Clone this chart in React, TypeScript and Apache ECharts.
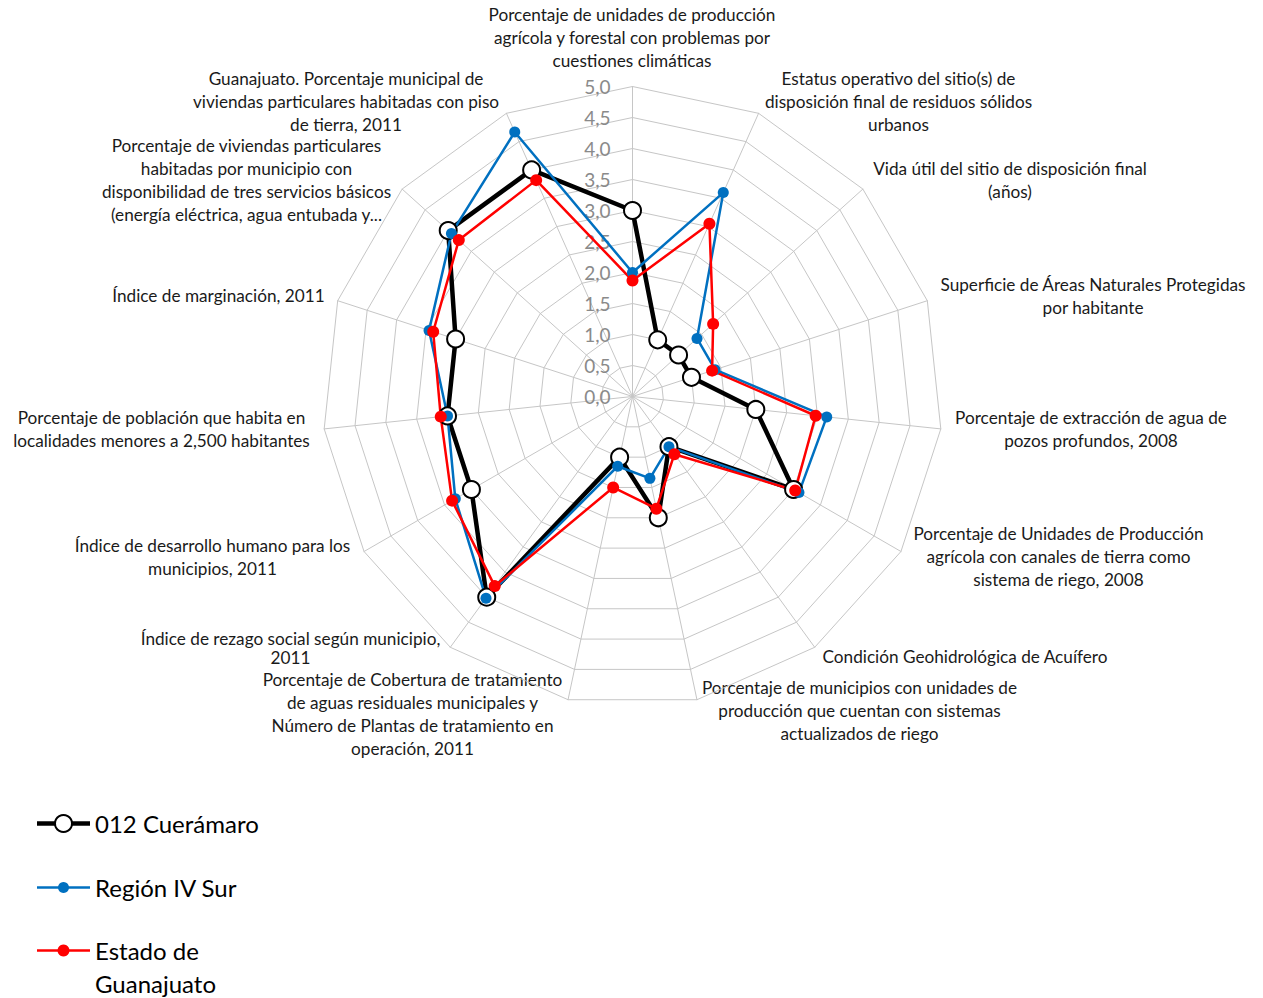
import React, { useEffect, useRef } from 'react';
import * as echarts from 'echarts';

// ---------- Data ----------
const indicatorNames: string[] = [
  'Porcentaje de unidades de producción\nagrícola y forestal con problemas por\ncuestiones climáticas',
  'Estatus operativo del sitio(s) de\ndisposición final de residuos sólidos\nurbanos',
  'Vida útil del sitio de disposición final\n(años)',
  'Superficie de Áreas Naturales Protegidas\npor habitante',
  'Porcentaje de extracción de agua de\npozos profundos, 2008',
  'Porcentaje de Unidades de Producción\nagrícola con canales de tierra como\nsistema de riego, 2008',
  'Condición Geohidrológica de Acuífero',
  'Porcentaje de municipios con unidades de\nproducción que cuentan con sistemas\nactualizados de riego',
  'Porcentaje de Cobertura de tratamiento\nde aguas residuales municipales y\nNúmero de Plantas de tratamiento en\noperación, 2011',
  'Índice de rezago social según municipio,\n2011',
  'Índice de desarrollo humano para los\nmunicipios, 2011',
  'Porcentaje de población que habita en\nlocalidades menores a 2,500 habitantes',
  'Índice de marginación, 2011',
  'Porcentaje de viviendas particulares\nhabitadas por municipio con\ndisponibilidad de tres servicios básicos\n(energía eléctrica, agua entubada y...',
  'Guanajuato. Porcentaje municipal de\nviviendas particulares habitadas con piso\nde tierra, 2011',
];

const seriesNames: string[] = ['012 Cuerámaro', 'Región IV Sur', 'Estado de Guanajuato'];

const cueramaro: number[] = [3.0, 1.0, 1.0, 1.0, 2.0, 3.0, 1.0, 2.0, 1.0, 4.0, 3.0, 3.0, 3.0, 4.0, 4.0];
const regionIVSur: number[] = [2.0, 3.6, 1.4, 1.4, 3.15, 3.1, 1.0, 1.35, 1.15, 4.02, 3.3, 3.0, 3.45, 3.93, 4.67];
const estadoGto: number[] = [1.87, 3.05, 1.75, 1.35, 2.97, 3.03, 1.15, 1.85, 1.5, 3.78, 3.36, 3.11, 3.38, 3.77, 3.82];

const tickLabels: string[] = ['0,0', '0,5', '1,0', '1,5', '2,0', '2,5', '3,0', '3,5', '4,0', '4,5', '5,0'];
const axisMax = 5;
const axisStep = 0.5;

// ---------- Layout (not data) ----------
const CX = 632.5;
const CY = 396.5;
const R = 310;
const FONT = 'Lato, "Open Sans", sans-serif';
const LINE_H = 22.7;
// first-line centre of each indicator label [x, y]
const labelPos: [number, number][] = [
  [632, 15],
  [898.5, 79],
  [1010, 169],
  [1093, 285],
  [1091, 418],
  [1058.5, 534],
  [965, 657],
  [859.5, 688],
  [412.5, 680],
  [290.5, 638],
  [212.5, 546],
  [161.5, 418],
  [218.5, 296],
  [246.5, 146],
  [346, 79],
];
const labelLineH: number[] = indicatorNames.map((_, i) => (i === 9 ? 19 : LINE_H));

// ECharts radar runs counter-clockwise; reorder to run clockwise like the original
const order: number[] = [0, ...Array.from({ length: indicatorNames.length - 1 }, (_, k) => indicatorNames.length - 1 - k)];

const seriesStyles = [
  { color: '#000000', width: 4.5, symbolSize: 17, fill: '#ffffff', border: 2 },
  { color: '#0070C0', width: 2.5, symbolSize: 11, fill: '#0070C0', border: 0 },
  { color: '#FF0000', width: 2.5, symbolSize: 12, fill: '#FF0000', border: 0 },
];
const seriesValues = [cueramaro, regionIVSur, estadoGto];

export default function App() {
  const ref = useRef<HTMLDivElement>(null);

  useEffect(() => {
    if (!ref.current) return;
    const chart = echarts.init(ref.current, undefined, { renderer: 'svg' });

    const labelGraphics = indicatorNames.map((name, i) => ({
      type: 'text',
      x: labelPos[i][0],
      y: labelPos[i][1] - labelLineH[i] / 2,
      silent: true,
      style: {
        text: name,
        font: `17.2px ${FONT}`,
        fill: '#1a1a1a',
        textAlign: 'center',
        align: 'center',
        textVerticalAlign: 'top',
        verticalAlign: 'top',
        lineHeight: labelLineH[i],
      },
    }));

    const legendY = [823.5, 887.5, 950.5];
    const legendGraphics: any[] = [];
    seriesNames.forEach((name, i) => {
      const s = seriesStyles[i];
      legendGraphics.push({
        type: 'line',
        silent: true,
        shape: { x1: 37, y1: legendY[i], x2: 90, y2: legendY[i] },
        style: { stroke: s.color, lineWidth: s.width },
      });
      legendGraphics.push({
        type: 'circle',
        silent: true,
        shape: { cx: 63.5, cy: legendY[i], r: s.symbolSize / 2 },
        style: { fill: s.fill, stroke: s.color, lineWidth: s.border },
      });
      const txt = name === 'Estado de Guanajuato' ? 'Estado de\nGuanajuato' : name;
      legendGraphics.push({
        type: 'text',
        silent: true,
        x: 95,
        y: legendY[i] - 16.5,
        style: {
          text: txt,
          font: `24px ${FONT}`,
          fill: '#000000',
          textAlign: 'left',
          align: 'left',
          textVerticalAlign: 'top',
          verticalAlign: 'top',
          lineHeight: 33,
        },
      });
    });

    const option: any = {
      animation: false,
      backgroundColor: '#ffffff',
      radar: {
        center: [CX, CY],
        radius: R,
        startAngle: 90,
        splitNumber: axisMax / axisStep,
        shape: 'polygon',
        indicator: order.map((i) => ({ name: indicatorNames[i], min: 0, max: axisMax })),
        axisName: { show: false },
        axisLine: { lineStyle: { color: '#c6c6c6', width: 1 } },
        splitLine: { lineStyle: { color: '#c6c6c6', width: 1 } },
        splitArea: { show: false },
        axisTick: { show: false },
        axisLabel: { show: false },
      },
      polar: { center: [CX, CY], radius: R },
      angleAxis: { type: 'value', min: 0, max: 360, startAngle: 90, show: false },
      radiusAxis: {
        type: 'value',
        min: 0,
        max: axisMax,
        interval: axisStep,
        axisLine: { show: false },
        axisTick: { show: false },
        splitLine: { show: false },
        axisLabel: {
          show: true,
          margin: 22,
          color: '#8a8a8a',
          fontSize: 19,
          fontFamily: FONT,
          formatter: (v: number) => tickLabels[Math.round(v / axisStep)],
        },
      },
      series: seriesNames.map((name, i) => {
        const s = seriesStyles[i];
        return {
          type: 'radar',
          name,
          symbol: 'circle',
          symbolSize: s.symbolSize,
          lineStyle: { color: s.color, width: s.width },
          itemStyle: { color: s.fill, borderColor: s.color, borderWidth: s.border },
          data: [{ name, value: order.map((k) => seriesValues[i][k]) }],
        };
      }),
      graphic: [...labelGraphics, ...legendGraphics],
    };

    chart.setOption(option);
    return () => chart.dispose();
  }, []);

  return (
    <div
      ref={ref}
      style={{ position: 'absolute', left: 0, top: 0, width: 1263, height: 998, background: '#fff' }}
    />
  );
}
